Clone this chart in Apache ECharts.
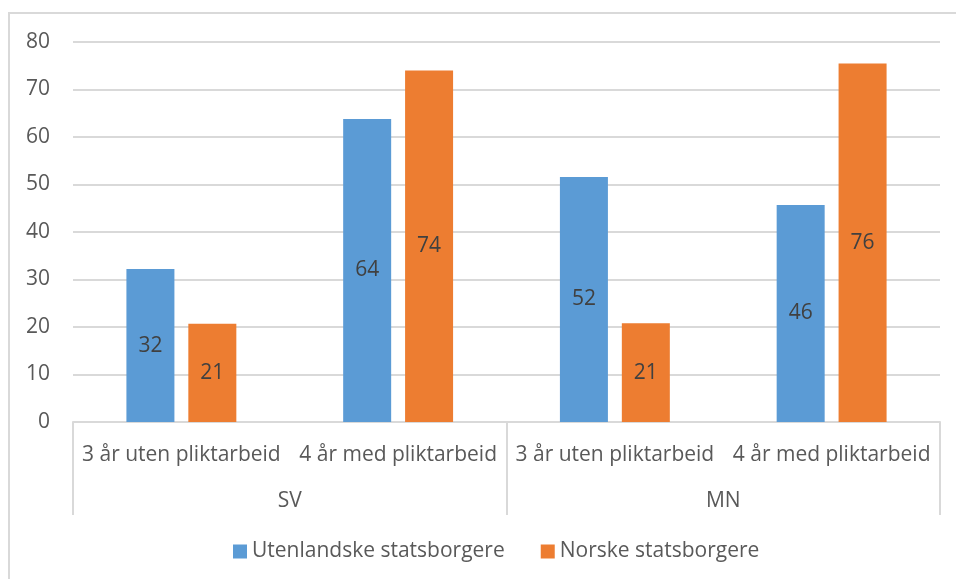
<!DOCTYPE html>
<html>
<head>
<meta charset="utf-8">
<script src="https://cdn.jsdelivr.net/npm/echarts@6/dist/echarts.min.js"></script>
<style>
  html, body { margin: 0; padding: 0; background: #fff; }
  #frame { position: absolute; left: 8px; top: 12px; width: 960px; height: 600px; border-left: 2px solid #d9d9d9; border-top: 2px solid #d9d9d9; }
  #chart { position: absolute; left: 0; top: 0; width: 956px; height: 579px; }
</style>
</head>
<body>
<div id="frame"></div>
<div id="chart"></div>
<script>
  const subCategories = ['3 år uten pliktarbeid', '4 år med pliktarbeid', '3 år uten pliktarbeid', '4 år med pliktarbeid']
  const groups = ['SV', 'MN']
  const foreignData = [32.2, 63.8, 51.6, 45.7]
  const norwegianData = [20.7, 74.0, 20.8, 75.5]
  const seriesNames = ['Utenlandske statsborgere', 'Norske statsborgere']

  const font = '"Open Sans", "Noto Sans", sans-serif'
  const textColor = '#595959'
  const lineColor = '#d9d9d9'

  const chart = echarts.init(document.getElementById('chart'))

  const barLabel = {
    show: true,
    position: 'inside',
    color: '#404040',
    fontSize: 21,
    fontFamily: font,
    formatter: p => Math.round(p.value)
  }

  chart.setOption({
    animation: false,
    textStyle: { fontFamily: font },
    grid: {
      left: 73,
      right: 16,
      top: 42,
      bottom: 157
    },
    legend: {
      top: 536,
      left: 228,
      itemWidth: 14,
      itemHeight: 14,
      itemGap: 36,
      icon: 'rect',
      textStyle: { color: textColor, fontSize: 21, fontFamily: font }
    },
    xAxis: [
      {
        type: 'category',
        data: subCategories,
        axisLine: { lineStyle: { color: lineColor, width: 2 } },
        axisTick: { show: false },
        axisLabel: { color: textColor, fontSize: 21, fontFamily: font, margin: 23, interval: 0 }
      },
      {
        type: 'category',
        data: groups,
        position: 'bottom',
        axisLine: { show: false },
        axisTick: { show: true, length: 93, interval: 0, lineStyle: { color: lineColor, width: 2 } },
        axisLabel: { color: textColor, fontSize: 21, fontFamily: font, margin: 69 },
        splitLine: { show: false }
      }
    ],
    yAxis: {
      type: 'value',
      min: 0,
      max: 80,
      interval: 10,
      axisLine: { show: false },
      axisTick: { show: false },
      axisLabel: { color: textColor, fontSize: 21, fontFamily: font, margin: 23 },
      splitLine: { lineStyle: { color: lineColor, width: 2 } }
    },
    series: [
      {
        name: seriesNames[0],
        type: 'bar',
        xAxisIndex: 0,
        data: foreignData,
        barWidth: 48,
        barGap: '29%',
        itemStyle: { color: '#5b9bd5' },
        label: barLabel
      },
      {
        name: seriesNames[1],
        type: 'bar',
        xAxisIndex: 0,
        data: norwegianData,
        barWidth: 48,
        itemStyle: { color: '#ed7d31' },
        label: barLabel
      }
    ]
  })
</script>
</body>
</html>
